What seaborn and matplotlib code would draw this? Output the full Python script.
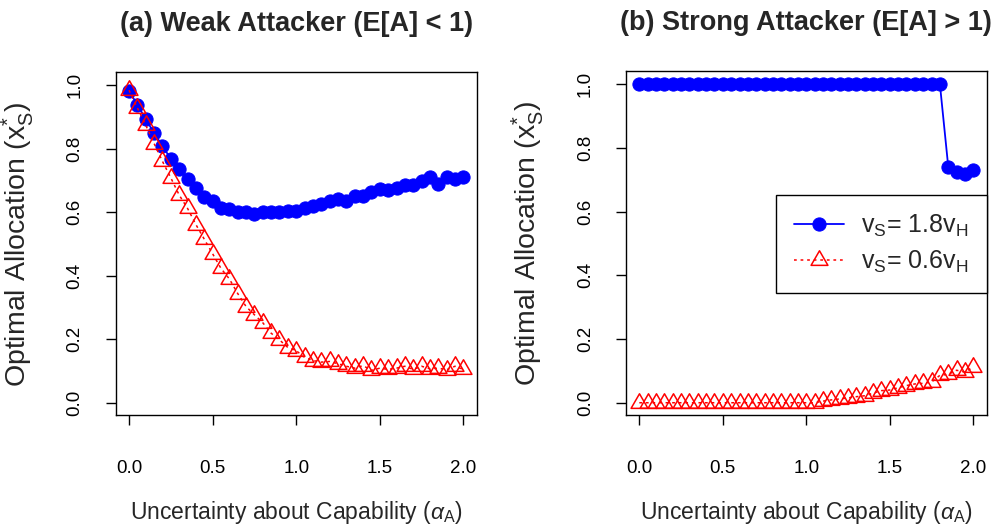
import numpy as np
import pandas as pd
import matplotlib
matplotlib.use("Agg")
import matplotlib.pyplot as plt
from matplotlib.path import Path
import seaborn as sns

# ---------------- data ----------------
alpha = [round(0.05 * i, 2) for i in range(41)]

weak_high = [0.982, 0.938, 0.893, 0.849, 0.808, 0.768, 0.735, 0.705, 0.675, 0.649,
             0.634, 0.614, 0.609, 0.600, 0.600, 0.594, 0.600, 0.600, 0.600, 0.604,
             0.604, 0.614, 0.619, 0.625, 0.635, 0.640, 0.634, 0.650, 0.650, 0.664,
             0.674, 0.670, 0.675, 0.684, 0.684, 0.699, 0.710, 0.690, 0.710, 0.704,
             0.710]
weak_low = [0.984, 0.928, 0.874, 0.816, 0.760, 0.708, 0.654, 0.612, 0.561, 0.515,
            0.469, 0.423, 0.390, 0.344, 0.303, 0.277, 0.252, 0.219, 0.198, 0.174,
            0.164, 0.143, 0.133, 0.128, 0.130, 0.123, 0.115, 0.109, 0.117, 0.102,
            0.109, 0.105, 0.109, 0.115, 0.105, 0.115, 0.107, 0.109, 0.104, 0.115,
            0.105]
strong_high = [1.0] * 37 + [0.741, 0.723, 0.719, 0.731]
strong_low = [0.0] * 22 + [0.005, 0.009, 0.012, 0.015, 0.019, 0.022, 0.030, 0.038,
                           0.040, 0.047, 0.054, 0.059, 0.061, 0.065, 0.086, 0.089,
                           0.102, 0.096, 0.112]

titles = ["(a) Weak Attacker (E[A] < 1)", "(b) Strong Attacker (E[A] > 1)"]
series_labels = [r"v$_\mathrm{S}$= 1.8v$_\mathrm{H}$", r"v$_\mathrm{S}$= 0.6v$_\mathrm{H}$"]
xticks = [0.0, 0.5, 1.0, 1.5, 2.0]
yticks = [0.0, 0.2, 0.4, 0.6, 0.8, 1.0]

# ---------------- style ----------------
sns.set_style("ticks")
plt.rcParams["font.family"] = ["Liberation Sans", "DejaVu Sans"]
plt.rcParams["mathtext.fontset"] = "custom"
plt.rcParams["mathtext.rm"] = "Liberation Sans"
plt.rcParams["mathtext.it"] = "Liberation Sans:italic"
plt.rcParams["axes.edgecolor"] = "black"
plt.rcParams["axes.linewidth"] = 1.0

# R-style triangle (point at centroid)
tri = Path([(0, 1), (-0.866, -0.5), (0.866, -0.5), (0, 1)],
           [Path.MOVETO, Path.LINETO, Path.LINETO, Path.CLOSEPOLY])

fig = plt.figure(figsize=(9.92, 5.27), dpi=100)
ax1 = fig.add_axes([0.1166, 0.2116, 0.364, 0.651])
ax2 = fig.add_axes([0.631, 0.2116, 0.3636, 0.653])

panels = [(ax1, weak_high, weak_low), (ax2, strong_high, strong_low)]
for k, (ax, hi, lo) in enumerate(panels):
    df = pd.DataFrame({"alpha": alpha, "hi": hi, "lo": lo})
    sns.lineplot(data=df, x="alpha", y="hi", ax=ax, color="#0000FF", lw=1.3,
                 marker="o", markersize=9.5, markeredgecolor="#0000FF",
                 markerfacecolor="#0000FF", label=series_labels[0], legend=False)
    sns.lineplot(data=df, x="alpha", y="lo", ax=ax, color="#FF0000", lw=1.1,
                 linestyle=(0, (1.8, 2.5)), marker=tri, markersize=14,
                 markeredgecolor="#FF0000", markerfacecolor="none", markeredgewidth=1.1,
                 label=series_labels[1], legend=False)
    ax.set_xlim(-0.08, 2.08)
    ax.set_ylim(-0.04, 1.04)
    ax.set_xticks(xticks)
    ax.set_xticklabels([f"{t:.1f}" for t in xticks])
    ax.set_yticks(yticks)
    ax.set_yticklabels([f"{t:.1f}" for t in yticks], rotation=90, va="center")
    ax.tick_params(axis="both", direction="out", length=7, width=1, color="black",
                   labelsize=13.5, labelcolor="black")
    ax.tick_params(axis="x", pad=25)
    ax.tick_params(axis="y", pad=16)
    for s in ax.spines.values():
        s.set_visible(True)
        s.set_color("black")
    ax.set_xlabel(r"Uncertainty about Capability ($\alpha_\mathrm{A}$)", fontsize=16.5,
                  labelpad=16)
    ax.set_ylabel(r"Optimal Allocation (x$_\mathrm{S}^{*}$)", fontsize=20.5, labelpad=22)
    ax.set_title(titles[k], fontsize=19.5, fontweight="bold", pad=30)

leg = ax2.legend(loc="upper right", bbox_to_anchor=(1.0, 0.642), borderaxespad=0,
                 fontsize=18, frameon=True, fancybox=False, edgecolor="black",
                 framealpha=1, handlelength=2.0, handletextpad=0.7, borderpad=0.72,
                 labelspacing=0.4)
leg.get_frame().set_linewidth(1.0)

fig.savefig("out.png", dpi=100)
